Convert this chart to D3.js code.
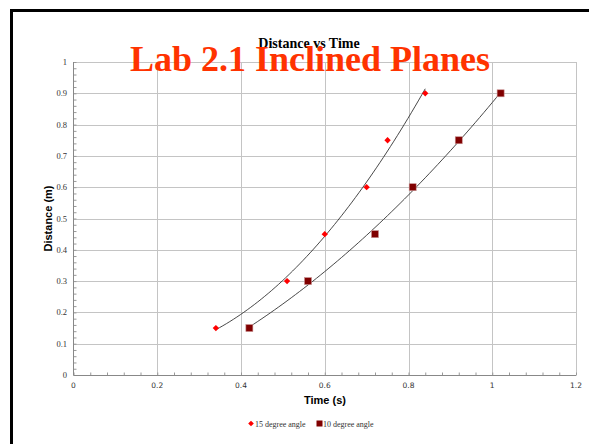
<!DOCTYPE html>
<html>
<head>
<meta charset="utf-8">
<script src="https://cdn.jsdelivr.net/npm/d3@7"></script>
<style>
  body { margin: 0; background: #fff; }
  svg { display: block; }
</style>
</head>
<body>
<div id="chart"></div>
<script>
// data
const time15 = [0.34, 0.51, 0.60, 0.70, 0.75, 0.84];
const dist15 = [0.15, 0.30, 0.45, 0.60, 0.75, 0.90];
const time10 = [0.42, 0.56, 0.72, 0.81, 0.92, 1.02];
const dist10 = [0.15, 0.30, 0.45, 0.60, 0.75, 0.90];
const seriesNames = ["15 degree angle", "10 degree angle"];
const xTicks = [0, 0.2, 0.4, 0.6, 0.8, 1, 1.2];
const yTicks = [0, 0.1, 0.2, 0.3, 0.4, 0.5, 0.6, 0.7, 0.8, 0.9, 1];

const width = 589, height = 444;
const plotLeft = 73.5, plotRight = 576, plotTop = 62, plotBottom = 375;

const svg = d3.select("#chart").append("svg")
    .attr("width", width)
    .attr("height", height);

const x = d3.scaleLinear().domain([0, 1.2]).range([plotLeft, plotRight]);
const y = d3.scaleLinear().domain([0, 1]).range([plotBottom, plotTop]);

// frame
svg.append("path")
    .attr("d", `M11.5,${height + 5} L11.5,10.5 L${width + 5},10.5`)
    .attr("fill", "none")
    .attr("stroke", "#000")
    .attr("stroke-width", 3);

// gridlines
svg.append("g")
    .selectAll("line")
    .data(xTicks.slice(1))
    .join("line")
    .attr("x1", d => Math.round(x(d)) + 0.5).attr("x2", d => Math.round(x(d)) + 0.5)
    .attr("y1", plotTop).attr("y2", plotBottom)
    .attr("stroke", "#c4c4c4");

svg.append("g")
    .selectAll("line")
    .data(yTicks.slice(1))
    .join("line")
    .attr("x1", plotLeft).attr("x2", plotRight)
    .attr("y1", d => Math.round(y(d)) + 0.5).attr("y2", d => Math.round(y(d)) + 0.5)
    .attr("stroke", "#c4c4c4");

// minor ticks, inside the plot
const xMinor = d3.range(0, 1.2001, 0.04);
const yMinor = d3.range(0, 1.0001, 0.02);

const xAxis = g => g
    .attr("transform", `translate(0,${plotBottom + 0.5})`)
    .call(d3.axisTop(x).tickValues(xMinor).tickSize(3).tickFormat(""))
    .call(g => g.select(".domain").remove())
    .call(g => g.selectAll("line").attr("stroke", "#999"));

const yAxis = g => g
    .attr("transform", `translate(${plotLeft},0)`)
    .call(d3.axisRight(y).tickValues(yMinor).tickSize(3).tickFormat(""))
    .call(g => g.select(".domain").remove())
    .call(g => g.selectAll("line").attr("stroke", "#999"));

svg.append("g").call(xAxis);
svg.append("g").call(yAxis);

// axis lines
svg.append("line")
    .attr("x1", plotLeft).attr("x2", plotRight)
    .attr("y1", plotBottom + 0.5).attr("y2", plotBottom + 0.5)
    .attr("stroke", "#888");
svg.append("line")
    .attr("x1", plotLeft).attr("x2", plotLeft)
    .attr("y1", plotTop).attr("y2", plotBottom)
    .attr("stroke", "#888");

// tick labels
svg.append("g")
    .selectAll("text")
    .data(xTicks)
    .join("text")
    .attr("x", d => x(d))
    .attr("y", 388)
    .attr("text-anchor", "middle")
    .attr("font-family", "DejaVu Sans, sans-serif")
    .attr("font-size", 7.5)
    .attr("fill", "#333")
    .text(d => d);

svg.append("g")
    .selectAll("text")
    .data(yTicks)
    .join("text")
    .attr("x", 67)
    .attr("y", d => y(d) + 3)
    .attr("text-anchor", "end")
    .attr("font-family", "Liberation Serif, serif")
    .attr("font-size", 8.5)
    .attr("fill", "#333")
    .text(d => d);

// axis titles
svg.append("text")
    .attr("x", 325)
    .attr("y", 404)
    .attr("text-anchor", "middle")
    .attr("font-family", "Liberation Sans, Arial, sans-serif")
    .attr("font-weight", "bold")
    .attr("font-size", 11)
    .text("Time (s)");

svg.append("text")
    .attr("transform", `translate(52,${(plotTop + plotBottom) / 2}) rotate(-90)`)
    .attr("text-anchor", "middle")
    .attr("font-family", "Liberation Sans, Arial, sans-serif")
    .attr("font-weight", "bold")
    .attr("font-size", 11)
    .text("Distance (m)");

// quadratic least-squares trendline
function fitQuad(xs, ys) {
    let s = [0, 0, 0, 0, 0], t = [0, 0, 0];
    xs.forEach((xv, i) => {
        for (let k = 0; k < 5; k++) s[k] += Math.pow(xv, k);
        for (let k = 0; k < 3; k++) t[k] += ys[i] * Math.pow(xv, k);
    });
    const A = [[s[0], s[1], s[2], t[0]], [s[1], s[2], s[3], t[1]], [s[2], s[3], s[4], t[2]]];
    for (let i = 0; i < 3; i++) {
        for (let j = i + 1; j < 3; j++) {
            const f = A[j][i] / A[i][i];
            for (let k = i; k < 4; k++) A[j][k] -= f * A[i][k];
        }
    }
    const c = [0, 0, 0];
    for (let i = 2; i >= 0; i--) {
        let v = A[i][3];
        for (let k = i + 1; k < 3; k++) v -= A[i][k] * c[k];
        c[i] = v / A[i][i];
    }
    return xv => c[0] + c[1] * xv + c[2] * xv * xv;
}

const line = d3.line().x(d => x(d[0])).y(d => y(d[1]));

[[time15, dist15], [time10, dist10]].forEach(([xs, ys]) => {
    const f = fitQuad(xs, ys);
    const lo = d3.min(xs), hi = d3.max(xs);
    const pts = d3.range(0, 61).map(i => {
        const xv = lo + (hi - lo) * i / 60;
        return [xv, f(xv)];
    });
    svg.append("path")
        .attr("d", line(pts))
        .attr("fill", "none")
        .attr("stroke", "#333")
        .attr("stroke-width", 0.9);
});

// markers
svg.append("g")
    .selectAll("path")
    .data(time15.map((t, i) => [t, dist15[i]]))
    .join("path")
    .attr("transform", d => `translate(${x(d[0])},${y(d[1])}) rotate(45)`)
    .attr("d", d3.symbol(d3.symbolSquare, 20))
    .attr("fill", "#ff0000");

svg.append("g")
    .selectAll("rect")
    .data(time10.map((t, i) => [t, dist10[i]]))
    .join("rect")
    .attr("x", d => x(d[0]) - 3.5)
    .attr("y", d => y(d[1]) - 3.5)
    .attr("width", 7)
    .attr("height", 7)
    .attr("fill", "#800000")
    .attr("stroke", "#c89090")
    .attr("stroke-width", 0.6);

// titles
svg.append("text")
    .attr("x", 309)
    .attr("y", 48)
    .attr("text-anchor", "middle")
    .attr("font-family", "Liberation Serif, Times New Roman, serif")
    .attr("font-weight", "bold")
    .attr("font-size", 14)
    .text("Distance vs Time");

svg.append("text")
    .attr("x", 310)
    .attr("y", 71)
    .attr("text-anchor", "middle")
    .attr("font-family", "Liberation Serif, Times New Roman, serif")
    .attr("font-weight", "bold")
    .attr("font-size", 36)
    .attr("fill", "#ff3300")
    .text("Lab 2.1 Inclined Planes");

// legend
const legend = svg.append("g").attr("font-family", "Liberation Serif, serif")
    .attr("font-size", 8).attr("fill", "#333");
legend.append("path")
    .attr("transform", "translate(251,423.5) rotate(45)")
    .attr("d", d3.symbol(d3.symbolSquare, 16))
    .attr("fill", "#ff0000");
legend.append("text").attr("x", 255).attr("y", 426.5).text(seriesNames[0]);
legend.append("rect")
    .attr("x", 316.5).attr("y", 420.5).attr("width", 6).attr("height", 6)
    .attr("fill", "#800000");
legend.append("text").attr("x", 323).attr("y", 426.5).text(seriesNames[1]);
</script>
</body>
</html>
